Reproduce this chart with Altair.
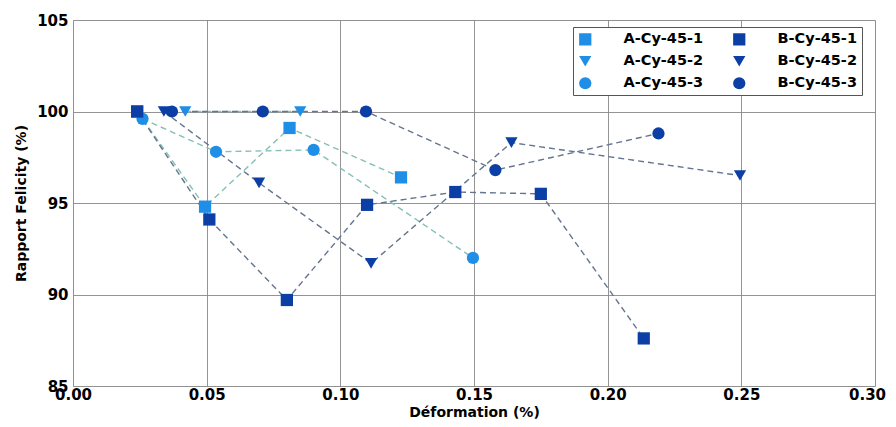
import altair as alt
import pandas as pd

series_names = ["A-Cy-45-1", "A-Cy-45-2", "A-Cy-45-3", "B-Cy-45-1", "B-Cy-45-2", "B-Cy-45-3"]

a1_x = [0.024, 0.0494, 0.081, 0.1227]
a1_y = [100.0, 94.8, 99.1, 96.4]
a2_x = [0.042, 0.085]
a2_y = [100.0, 100.0]
a3_x = [0.026, 0.0535, 0.090, 0.1496]
a3_y = [99.6, 97.8, 97.9, 92.0]
b1_x = [0.024, 0.051, 0.080, 0.110, 0.143, 0.175, 0.2135]
b1_y = [100.0, 94.1, 89.7, 94.9, 95.6, 95.5, 87.6]
b2_x = [0.034, 0.0696, 0.1115, 0.164, 0.2495]
b2_y = [100.0, 96.1, 91.7, 98.3, 96.5]
b3_x = [0.037, 0.071, 0.1096, 0.158, 0.219]
b3_y = [100.0, 100.0, 100.0, 96.8, 98.8]

xs = [a1_x, a2_x, a3_x, b1_x, b2_x, b3_x]
ys = [a1_y, a2_y, a3_y, b1_y, b2_y, b3_y]

rows = []
for name, sx, sy in zip(series_names, xs, ys):
    for i, (x, y) in enumerate(zip(sx, sy)):
        rows.append({"serie": name, "groupe": name[0], "idx": i, "x": x, "y": y})
df = pd.DataFrame(rows)

light = "#1f8ee6"
dark = "#0c3fa6"
color_range = [light, light, light, dark, dark, dark]
shape_range = ["square", "triangle-down", "circle", "square", "triangle-down", "circle"]

font = "DejaVu Sans"

xenc = alt.X("x:Q", title="Déformation (%)",
             scale=alt.Scale(domain=[0, 0.30], nice=False),
             axis=alt.Axis(values=[0, 0.05, 0.10, 0.15, 0.20, 0.25, 0.30], format=".2f",
                           labelFontSize=15, labelFontWeight="bold", labelFont=font,
                           titleFontSize=14, titleFontWeight="bold", titleFont=font,
                           titleColor="black", labelColor="black",
                           grid=True, gridColor="#888888", gridWidth=1, gridOpacity=0.9,
                           domain=False, ticks=False, labelPadding=1, titlePadding=3,
                           labelFlush=False,
                           labelOffset={"condition": {"test": "datum.value >= 0.29", "value": -8},
                                        "value": 0}))
yenc = alt.Y("y:Q", title="Rapport Felicity (%)",
             scale=alt.Scale(domain=[85, 105], nice=False),
             axis=alt.Axis(values=[85, 90, 95, 100, 105],
                           labelFontSize=15, labelFontWeight="bold", labelFont=font,
                           titleFontSize=14, titleFontWeight="bold", titleFont=font,
                           titleColor="black", labelColor="black",
                           grid=True, gridColor="#888888", gridWidth=1, gridOpacity=0.9,
                           domain=False, ticks=False, labelPadding=5, titlePadding=8))

lines_a = alt.Chart(df).transform_filter(alt.datum.groupe == "A").mark_line(
    strokeDash=[6, 4], strokeWidth=1.4, color="#86bfb6"
).encode(x=xenc, y=yenc, detail="serie:N", order="idx:Q")

lines_b = alt.Chart(df).transform_filter(alt.datum.groupe == "B").mark_line(
    strokeDash=[6, 4], strokeWidth=1.4, color="#65758f"
).encode(x=xenc, y=yenc, detail="serie:N", order="idx:Q")

points = alt.Chart(df).mark_point(filled=True, opacity=1, size=150, strokeWidth=1).encode(
    x=xenc, y=yenc,
    color=alt.Color("serie:N", scale=alt.Scale(domain=series_names, range=color_range),
                    legend=alt.Legend(title=None, orient="none", legendX=500, legendY=7,
                                      columns=2, direction="vertical",
                                      labelFontSize=14.5, labelFontWeight="bold", labelFont=font,
                                      labelColor="black", symbolSize=150, labelOffset=31,
                                      strokeColor="#555555", fillColor="white",
                                      padding=5, columnPadding=28, rowPadding=7,
                                      symbolStrokeWidth=0)),
    shape=alt.Shape("serie:N", scale=alt.Scale(domain=series_names, range=shape_range)),
)

chart = alt.layer(lines_a, lines_b, points).properties(
    width=802, height=366,
    padding={"left": 65, "top": 12, "right": 13, "bottom": 33},
    autosize=alt.AutoSizeParams(type="none"),
).configure_view(stroke="#222222", strokeWidth=1.2).configure(background="white")

chart.save("out.html", embed_options={"renderer": "svg", "actions": False})
